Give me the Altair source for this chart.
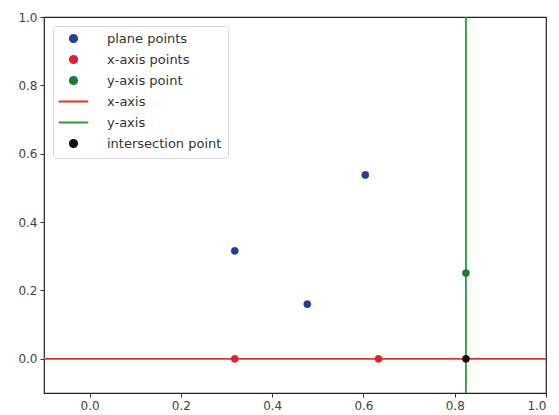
import altair as alt
import pandas as pd

# ---- data ----
plane_x = [0.318, 0.477, 0.604]
plane_y = [0.316, 0.160, 0.538]
xaxis_pts_x = [0.318, 0.633]
xaxis_pts_y = [0.0, 0.0]
yaxis_pt_x = [0.8246]
yaxis_pt_y = [0.251]
x_axis_line_y = [0.0]
y_axis_line_x = [0.8246]
inter_x = [0.8246]
inter_y = [0.0]

series = ["plane points", "x-axis points", "y-axis point", "x-axis", "y-axis", "intersection point"]
colors = ["#223f96", "#dc2036", "#187c38", "#e0342c", "#2f9a34", "#111111"]
line_sym = "M0,-1M0,1M-4.1,0H4.1"
shapes = ["circle", "circle", "circle", line_sym, line_sym, "circle"]

pts = pd.DataFrame({
    "x": plane_x + xaxis_pts_x + yaxis_pt_x + inter_x,
    "y": plane_y + xaxis_pts_y + yaxis_pt_y + inter_y,
    "series": ["plane points"] * len(plane_x) + ["x-axis points"] * len(xaxis_pts_x)
              + ["y-axis point"] * len(yaxis_pt_x) + ["intersection point"] * len(inter_x),
})
hline = pd.DataFrame({"y": x_axis_line_y, "series": ["x-axis"]})
vline = pd.DataFrame({"x": y_axis_line_x, "series": ["y-axis"]})

font = "DejaVu Sans"
legend = alt.Legend(
    title=None, orient="top-left", offset=9,
    fillColor="white", strokeColor="#d8d8d8", cornerRadius=3, padding=6,
    labelFont=font, labelFontSize=13, labelColor="#333333",
    symbolStrokeWidth=2, symbolSize=52, symbolOffset=8, rowPadding=4, labelOffset=27,
    symbolOpacity=1,
)

fill = alt.Fill("series:N", scale=alt.Scale(domain=series, range=colors), legend=legend)
stroke = alt.Stroke("series:N", scale=alt.Scale(domain=series, range=colors), legend=legend)
shape = alt.Shape("series:N", scale=alt.Scale(domain=series, range=shapes), legend=legend)

xscale = alt.Scale(domain=[-0.1, 1.0], nice=False, zero=False)
yscale = alt.Scale(domain=[-0.1, 1.0], nice=False, zero=False)
xaxis = alt.Axis(values=[0.0, 0.2, 0.4, 0.6, 0.8, 1.0], format=".1f", title=None, grid=False,
                 domain=False, tickColor="#333333", tickSize=4, labelFont=font, labelFontSize=12,
                 labelColor="#444444", labelPadding=3)
yaxis = alt.Axis(values=[0.0, 0.2, 0.4, 0.6, 0.8, 1.0], format=".1f", title=None, grid=False,
                 domain=False, tickColor="#333333", tickSize=4, labelFont=font, labelFontSize=12,
                 labelColor="#444444", labelPadding=3)

h = alt.Chart(hline).mark_rule(strokeWidth=1.8).encode(
    y=alt.Y("y:Q", scale=yscale, axis=yaxis), stroke=stroke)
v = alt.Chart(vline).mark_rule(strokeWidth=1.8).encode(
    x=alt.X("x:Q", scale=xscale, axis=xaxis), stroke=stroke)
p = alt.Chart(pts).mark_point(filled=True, opacity=1, strokeWidth=0.5, size=52).encode(
    x=alt.X("x:Q", scale=xscale, axis=xaxis),
    y=alt.Y("y:Q", scale=yscale, axis=yaxis),
    fill=fill, stroke=stroke, shape=shape,
)

chart = alt.layer(h, v, p).properties(
    width=502, height=376,
    autosize=alt.AutoSizeParams(type="none"),
    padding={"left": 44, "top": 17, "right": 13, "bottom": 22},
    background="white",
).configure_view(stroke="#222222", strokeWidth=1.2)

chart.save("out.html", embed_options={"renderer": "svg", "actions": False})
